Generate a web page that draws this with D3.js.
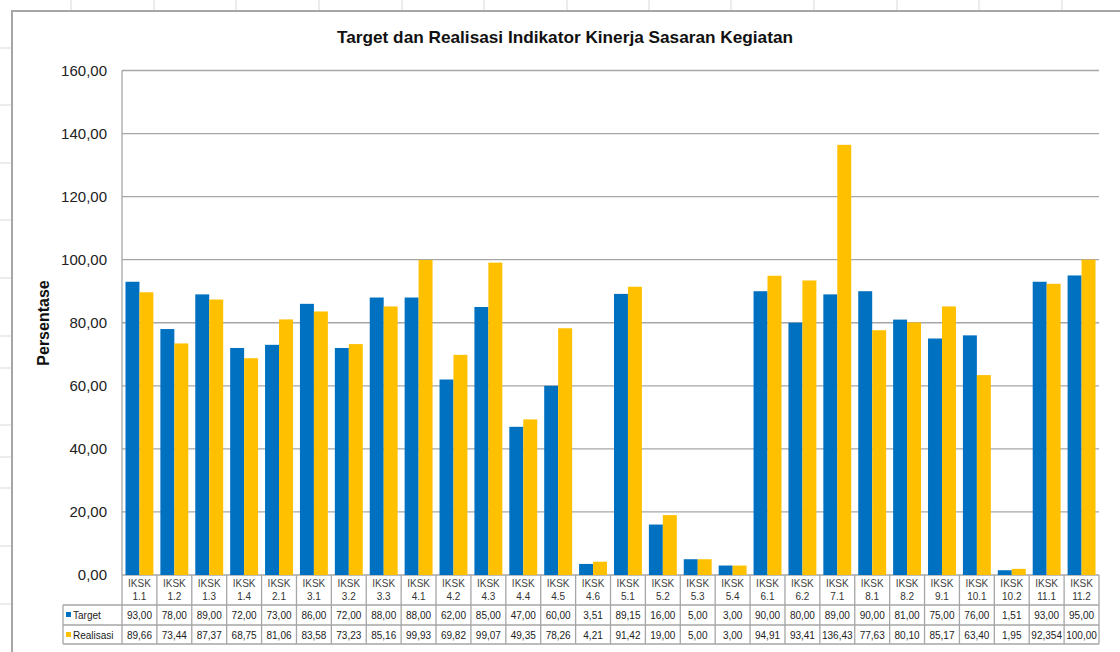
<!doctype html>
<html lang="id">
<head>
  <meta charset="utf-8">
  <title>Target dan Realisasi Indikator Kinerja Sasaran Kegiatan</title>
  <script src="https://d3js.org/d3.v7.min.js"></script>
  <style>
    html, body { margin: 0; padding: 0; background: #fff; }
    svg { display: block; font-family: "Liberation Sans", Arial, sans-serif; }
  </style>
</head>
<body>
<svg id="chart" width="1120" height="652"></svg>
<script>
  // data
  var categories = ["1.1", "1.2", "1.3", "1.4", "2.1", "3.1", "3.2", "3.3", "4.1", "4.2", "4.3", "4.4", "4.5", "4.6",
                    "5.1", "5.2", "5.3", "5.4", "6.1", "6.2", "7.1", "8.1", "8.2", "9.1", "10.1", "10.2", "11.1", "11.2"];
  var target = [93, 78, 89, 72, 73, 86, 72, 88, 88, 62, 85, 47, 60, 3.51,
                89.15, 16, 5, 3, 90, 80, 89, 90, 81, 75, 76, 1.51, 93, 95];
  var realisasi = [89.66, 73.44, 87.37, 68.75, 81.06, 83.58, 73.23, 85.16, 99.93, 69.82, 99.07, 49.35, 78.26, 4.21,
                   91.42, 19.00, 5.00, 3.00, 94.91, 93.41, 136.43, 77.63, 80.10, 85.17, 63.40, 1.95, 92.354, 100.00];
  var seriesNames = ["Target", "Realisasi"];
  var yTicks = [0, 20, 40, 60, 80, 100, 120, 140, 160];

  var colors = { Target: "#0070C0", Realisasi: "#FFC000" };
  var lineColor = "#a6a6a6";

  var svg = d3.select("#chart");

  // excel sheet grid behind the chart object
  var sheetCols = [71, 154, 236, 319, 402, 484, 567, 649, 731, 814, 897, 979, 1062];
  var sheetRows = [48, 105, 163, 220, 278, 336, 368, 425, 457, 488, 546, 604];
  svg.selectAll(".scol").data(sheetCols).enter().append("line")
     .attr("x1", function(d) { return d; }).attr("x2", function(d) { return d; })
     .attr("y1", 0).attr("y2", 12)
     .attr("stroke", "#d9d9d9");
  svg.selectAll(".srow").data(sheetRows).enter().append("line")
     .attr("x1", 0).attr("x2", 12)
     .attr("y1", function(d) { return d; }).attr("y2", function(d) { return d; })
     .attr("stroke", "#d9d9d9");

  // chart object frame
  svg.append("rect")
     .attr("x", 12).attr("y", 11).attr("width", 1120).attr("height", 700)
     .attr("fill", "#fff").attr("stroke", lineColor).attr("stroke-width", 2);

  var plotL = 122, plotR = 1099, plotT = 70.5, plotB = 575;

  var x = d3.scaleBand().domain(categories).range([plotL, plotR]);
  var xs = d3.scaleBand().domain(seriesNames).range([0, x.bandwidth()]).paddingOuter(0.25);
  var y = d3.scaleLinear().domain([0, 160]).range([plotB, plotT]);

  // title
  svg.append("text")
     .attr("x", 565).attr("y", 43)
     .attr("text-anchor", "middle")
     .attr("textLength", 456).attr("lengthAdjust", "spacingAndGlyphs")
     .style("font-size", "17px").style("font-weight", "bold").style("fill", "#111")
     .text("Target dan Realisasi Indikator Kinerja Sasaran Kegiatan");

  // gridlines + y labels
  svg.selectAll(".grid").data(yTicks).enter().append("line")
     .attr("x1", plotL).attr("x2", plotR)
     .attr("y1", function(d) { return y(d); }).attr("y2", function(d) { return y(d); })
     .attr("stroke", lineColor).attr("stroke-width", 1.3);

  var comma = d3.formatLocale({ decimal: ",", thousands: ".", grouping: [3], currency: ["", ""] });
  var f2 = comma.format(".2f"), f3 = comma.format(".3f");
  function fmt(v) { return Math.round(v * 1000) % 10 !== 0 ? f3(v) : f2(v); }

  svg.selectAll(".ylab").data(yTicks).enter().append("text")
     .attr("x", 107).attr("y", function(d) { return y(d); })
     .attr("dy", "0.35em").attr("text-anchor", "end")
     .style("font-size", "15px").style("fill", "#222")
     .text(function(d) { return f2(d); });

  svg.append("line")
     .attr("x1", plotL).attr("x2", plotL).attr("y1", plotT).attr("y2", plotB)
     .attr("stroke", lineColor).attr("stroke-width", 1.3);

  svg.append("text")
     .attr("transform", "translate(49,323) rotate(-90)")
     .attr("text-anchor", "middle")
     .style("font-size", "16px").style("font-weight", "bold").style("fill", "#111")
     .text("Persentase");

  // bars
  var rows = categories.map(function(c, i) { return { cat: c, Target: target[i], Realisasi: realisasi[i] }; });
  var groups = svg.selectAll(".cat").data(rows).enter().append("g")
     .attr("transform", function(d) { return "translate(" + x(d.cat) + ",0)"; });
  groups.selectAll("rect")
     .data(function(d) { return seriesNames.map(function(s) { return { key: s, value: d[s] }; }); })
     .enter().append("rect")
     .attr("x", function(d) { return xs(d.key); })
     .attr("width", xs.bandwidth())
     .attr("y", function(d) { return y(d.value); })
     .attr("height", function(d) { return plotB - y(d.value); })
     .attr("fill", function(d) { return colors[d.key]; });

  // data table
  var tLeft = 63;
  var tbl = svg.append("g");
  [605, 625, 644].forEach(function(ry) {
    tbl.append("line").attr("x1", tLeft).attr("x2", plotR).attr("y1", ry).attr("y2", ry)
       .attr("stroke", lineColor).attr("stroke-width", 1.3);
  });
  var bounds = categories.map(function(c) { return x(c); }).concat([plotR]);
  tbl.selectAll(".vb").data(bounds).enter().append("line")
     .attr("x1", function(d) { return d; }).attr("x2", function(d) { return d; })
     .attr("y1", plotB).attr("y2", 644)
     .attr("stroke", lineColor).attr("stroke-width", 1.3);
  tbl.append("line").attr("x1", tLeft).attr("x2", tLeft).attr("y1", 605).attr("y2", 644)
     .attr("stroke", lineColor).attr("stroke-width", 1.3);

  var cx = function(c) { return x(c) + x.bandwidth() / 2; };
  tbl.selectAll(".h1").data(categories).enter().append("text")
     .attr("x", cx).attr("y", 587).attr("text-anchor", "middle")
     .style("font-size", "10px").style("fill", "#444").text("IKSK");
  tbl.selectAll(".h2").data(categories).enter().append("text")
     .attr("x", cx).attr("y", 600).attr("text-anchor", "middle")
     .style("font-size", "10px").style("fill", "#333").text(function(d) { return d; });

  [target, realisasi].forEach(function(vals, r) {
    var ty = r === 0 ? 619 : 639;
    tbl.selectAll(".v" + r).data(vals).enter().append("text")
       .attr("x", function(d, i) { return cx(categories[i]); }).attr("y", ty)
       .attr("text-anchor", "middle")
       .style("font-size", "10px").style("fill", "#222")
       .text(fmt);
    tbl.append("rect").attr("x", 66).attr("y", ty - 7).attr("width", 5).attr("height", 5)
       .attr("fill", colors[seriesNames[r]]);
    tbl.append("text").attr("x", 73).attr("y", ty)
       .style("font-size", "10px").style("fill", "#222").text(seriesNames[r]);
  });
</script>
</body>
</html>
